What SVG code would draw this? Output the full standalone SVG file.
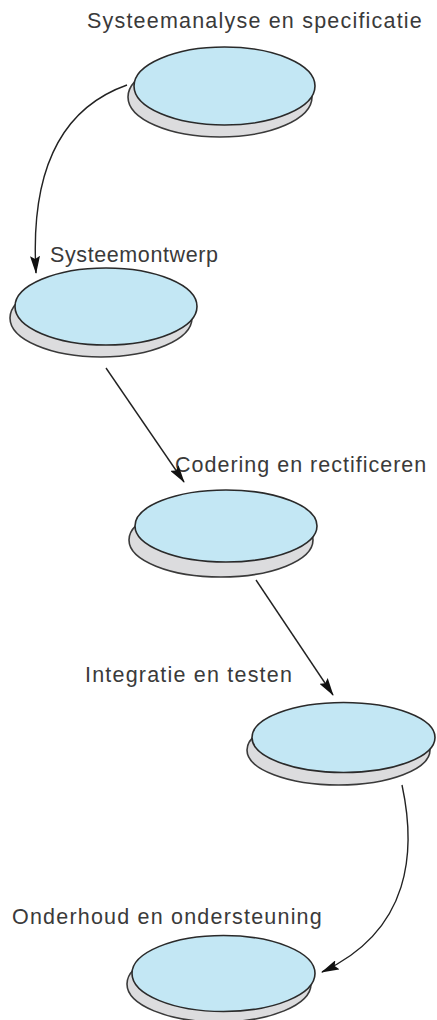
<svg xmlns="http://www.w3.org/2000/svg" width="437" height="1020" viewBox="0 0 437 1020">
<style>
.lbl{font-family:"Liberation Sans",Arial,sans-serif;font-size:21.5px;letter-spacing:1.2px;fill:#3a3a3a}
.top{fill:#c3e7f4;stroke:#2a2a2a;stroke-width:1.6}
.base{fill:#dcdcde;stroke:#3a3a3a;stroke-width:1.6}
.conn{fill:none;stroke:#222;stroke-width:1.4}
</style>
<defs>
<marker id="ah" markerUnits="userSpaceOnUse" markerWidth="18" markerHeight="10" refX="17" refY="5" orient="auto">
<path d="M0,0 L18,5 L0,10 L3,5 z" fill="#111"/>
</marker>
</defs>
<rect width="437" height="1020" fill="#fff"/>
<g id="n1">
<text class="lbl" x="87" y="28">Systeemanalyse en specificatie</text>
<ellipse class="base" cx="220" cy="97" rx="92" ry="40"/>
<ellipse class="top" cx="224.5" cy="86" rx="90.5" ry="39"/>
</g>
<g id="n2">
<text class="lbl" x="50" y="262" style="letter-spacing:0.6px">Systeemontwerp</text>
<ellipse class="base" cx="101" cy="318" rx="91" ry="39"/>
<ellipse class="top" cx="106" cy="306.5" rx="91" ry="38.5"/>
</g>
<g id="n3">
<text class="lbl" x="175" y="472" style="letter-spacing:1px">Codering en rectificeren</text>
<ellipse class="base" cx="221" cy="540" rx="92" ry="37"/>
<ellipse class="top" cx="226" cy="526" rx="91" ry="36"/>
</g>
<g id="n4">
<text class="lbl" x="85" y="682">Integratie en testen</text>
<ellipse class="base" cx="338.5" cy="750" rx="91.5" ry="35"/>
<ellipse class="top" cx="343.5" cy="737.5" rx="91.5" ry="35"/>
</g>
<g id="n5">
<text class="lbl" x="12" y="924">Onderhoud en ondersteuning</text>
<ellipse class="base" cx="219" cy="984" rx="92" ry="38"/>
<ellipse class="top" cx="223.5" cy="973.5" rx="91.5" ry="38"/>
</g>
<g id="connectors">
<path class="conn" d="M127,85 C62,108 30,170 36,273" marker-end="url(#ah)"/>
<path class="conn" d="M106,368 L184,482" marker-end="url(#ah)"/>
<path class="conn" d="M256,580 L333,695" marker-end="url(#ah)"/>
<path class="conn" d="M402,785 C416,850 412,930 322,972" marker-end="url(#ah)"/>
</g>
</svg>
